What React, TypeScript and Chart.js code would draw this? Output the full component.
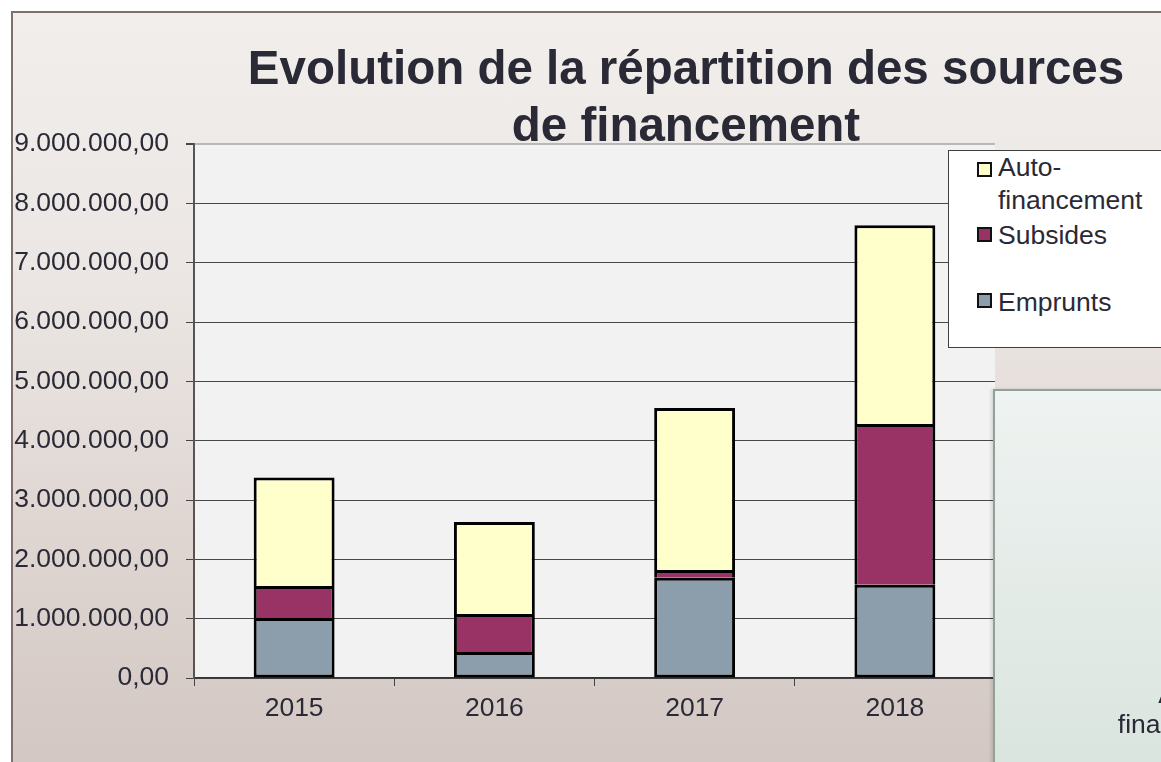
import React, { useEffect, useRef } from "react";
import { Chart, registerables } from "chart.js";

Chart.register(...registerables);

const categories: string[] = ["2015", "2016", "2017", "2018"];
const emprunts: number[] = [1010000, 440000, 1690000, 1570000];
const subsides: number[] = [540000, 640000, 130000, 2710000];
const autofinancement: number[] = [1830000, 1550000, 2730000, 3350000];
const seriesLabels: string[] = ["Emprunts", "Subsides", "Auto-financement"];
const seriesColors: string[] = ["#8c9dab", "#993366", "#ffffcc"];
const titleLines: string[] = ["Evolution de la répartition des sources", "de financement"];
const yMax = 9000000;
const yStep = 1000000;

const FONT = "'Liberation Sans', Arial, sans-serif";
const TEXT = "#2a2a36";

function fmt(v: number): string {
  const n = Math.round(v);
  const s = String(n).replace(/\B(?=(\d{3})+(?!\d))/g, ".");
  return s + ",00";
}

const plotBg = {
  id: "plotBg",
  beforeDraw(chart: any) {
    const { ctx, chartArea } = chart;
    ctx.save();
    ctx.fillStyle = "#f2f2f2";
    ctx.fillRect(chartArea.left, chartArea.top, chartArea.right - chartArea.left, chartArea.bottom - chartArea.top);
    ctx.restore();
  },
};

export default function App() {
  const ref = useRef<HTMLCanvasElement | null>(null);

  useEffect(() => {
    if (!ref.current) return;
    const values = [emprunts, subsides, autofinancement];
    const chart = new Chart(ref.current, {
      type: "bar",
      data: {
        labels: categories,
        datasets: values.map((d, i) => ({
          label: seriesLabels[i],
          data: d,
          backgroundColor: seriesColors[i],
          borderColor: "#000000",
          borderWidth: 3,
          borderSkipped: i === 0 ? false : "start",
          barPercentage: 0.404,
          categoryPercentage: 1,
        })),
      },
      options: {
        responsive: false,
        animation: false,
        devicePixelRatio: 1,
        layout: { padding: { top: 144, right: 166, left: 0, bottom: 0 } },
        plugins: {
          legend: { display: false },
          title: { display: false },
          tooltip: { enabled: false },
        },
        scales: {
          x: {
            stacked: true,
            afterFit: (s: any) => {
              s.height = 84;
            },
            grid: {
              offset: true,
              drawOnChartArea: false,
              drawTicks: true,
              tickLength: 8,
              color: "#444444",
            },
            border: { display: true, color: "#333333", width: 1.5 },
            ticks: {
              color: TEXT,
              padding: 7,
              font: { family: FONT, size: 26.5 },
            },
          },
          y: {
            stacked: true,
            min: 0,
            max: yMax,
            afterFit: (s: any) => {
              s.width = 194;
            },
            grid: {
              color: (c: any) => (c.tick && c.tick.value === yMax ? "#b8b8b8" : "#484848"),
              lineWidth: (c: any) => (c.tick && c.tick.value === yMax ? 2 : 1),
              tickColor: "#444444",
              tickLength: 8,
              drawTicks: true,
            },
            border: { display: true, color: "#555555", width: 2 },
            ticks: {
              stepSize: yStep,
              color: TEXT,
              padding: 17,
              font: { family: FONT, size: 26.5 },
              callback: (v: any) => fmt(Number(v)),
            },
          },
        },
      },
      plugins: [plotBg],
    });
    return () => chart.destroy();
  }, []);

  const legendOrder = [2, 1, 0];
  const legendSquareTops = [162, 227, 293];
  const legendTextTops = [151.2, 218.6, 285.6];

  return (
    <div
      style={{
        position: "fixed",
        left: 0,
        top: 0,
        width: 1161,
        height: 762,
        overflow: "hidden",
        background: "#ffffff",
        fontFamily: FONT,
      }}
    >
      <div
        style={{
          position: "absolute",
          left: 11,
          top: 11,
          width: 1180,
          height: 800,
          boxSizing: "border-box",
          border: "2px solid #7f716a",
          background: "linear-gradient(to bottom, #f1eeec 0%, #ebe6e3 35%, #ddd3cf 70%, #d0c5c0 100%)",
        }}
      />
      <canvas ref={ref} width={1161} height={762} style={{ position: "absolute", left: 0, top: 0 }} />
      {titleLines.map((t, i) => (
        <div
          key={t}
          style={{
            position: "absolute",
            left: 686 - 500,
            width: 1000,
            top: 39 + i * 57,
            textAlign: "center",
            fontWeight: "bold",
            fontSize: 47.5,
            lineHeight: "57px",
            color: TEXT,
            whiteSpace: "nowrap",
          }}
        >
          {t}
        </div>
      ))}
      <div
        style={{
          position: "absolute",
          left: 948,
          top: 150,
          width: 260,
          height: 198,
          boxSizing: "border-box",
          border: "1px solid #3f3f3f",
          background: "#ffffff",
        }}
      />
      {legendOrder.map((idx, k) => (
        <React.Fragment key={seriesLabels[idx]}>
          <div
            style={{
              position: "absolute",
              left: 977,
              top: legendSquareTops[k],
              width: 15,
              height: 15,
              boxSizing: "border-box",
              border: "2px solid #111111",
              background: seriesColors[idx],
            }}
          />
          <div
            style={{
              position: "absolute",
              left: 998,
              top: legendTextTops[k],
              width: 160,
              fontSize: 26.5,
              lineHeight: "32.5px",
              color: TEXT,
            }}
          >
            {seriesLabels[idx]}
          </div>
        </React.Fragment>
      ))}
      <div
        style={{
          position: "absolute",
          left: 993,
          top: 389,
          width: 260,
          height: 420,
          boxSizing: "border-box",
          border: "2px solid #90a197",
          background: "linear-gradient(to bottom, #eff3f1 0%, #d8e3dd 100%)",
          boxShadow: "-2px 0 3px rgba(0,0,0,0.12)",
        }}
      />
      <div
        style={{
          position: "absolute",
          left: 1095,
          top: 679,
          width: 190,
          textAlign: "center",
          fontSize: 26.5,
          lineHeight: "30px",
          color: TEXT,
        }}
      >
        {seriesLabels[2]}
      </div>
    </div>
  );
}
